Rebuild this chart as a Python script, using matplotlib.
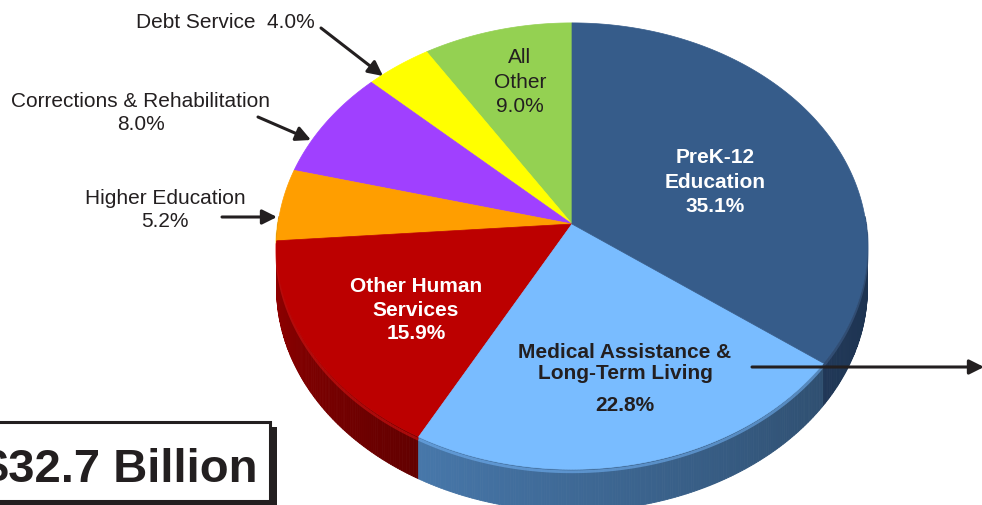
import numpy as np
import matplotlib.pyplot as plt
from matplotlib.patches import Polygon, Rectangle
from matplotlib.colors import to_rgb

# budget shares, drawn counter-clockwise from 12 o'clock
labels = ['All Other', 'Debt Service', 'Corrections & Rehabilitation',
          'Higher Education', 'Other Human Services',
          'Medical Assistance & Long-Term Living', 'PreK-12 Education']
shares = [9.0, 4.0, 8.0, 5.2, 15.9, 22.8, 35.1]
top_colors = ['#94D152', '#FFFF00', '#A040FF', '#FF9E00',
              '#BC0000', '#79BCFF', '#365C8A']
side_colors = ['#5E8A30', '#A8A800', '#6A20B0', '#B86E00',
               '#7E0000', '#3C6590', '#1B2F4A']
total_label = '$32.7 Billion'

plt.rcParams['font.family'] = ['Liberation Sans', 'DejaVu Sans']
INK = '#231F20'

# fake 3d: perspective disc
CX, CY = 572, 225
RX, RY = 294, 221
K = 0.099
DEPTH = 42


def project(theta_deg, r=1.0):
    t = np.radians(theta_deg)
    u = r * np.cos(t)
    v = r * np.sin(t)
    d = 1 + K * v
    return CX + RX * u / d, CY - RY * v / d


fig = plt.figure(figsize=(9.82, 5.06), dpi=100)
ax = fig.add_axes([0, 0, 1, 1])
ax.set_xlim(0, 982)
ax.set_ylim(506, 0)
ax.axis('off')

edges = 90 + np.concatenate([[0], np.cumsum(shares)]) * 3.6

# sides (front rim only)
for i in range(len(shares)):
    a, b = edges[i], edges[i + 1]
    lo, hi = max(a, 178), min(b, 362)
    if hi <= lo:
        continue
    base = np.array(to_rgb(side_colors[i]))
    n = max(int((hi - lo) * 2), 2)
    th = np.linspace(lo, hi, n + 1)
    for j in range(n):
        t0, t1 = th[j], th[j + 1]
        x0, y0 = project(t0)
        x1, y1 = project(t1)
        frac = ((t0 + t1) / 2 - a) / (b - a)
        f = 1.18 - 0.4 * frac
        c = np.clip(base * f, 0, 1)
        ax.add_patch(Polygon([(x0, y0), (x1, y1), (x1, y1 + DEPTH), (x0, y0 + DEPTH)],
                             closed=True, facecolor=c, edgecolor=c, lw=0.6, zorder=1))
    # light bevel along the top of the side
    xs, ys = project(th)
    hl = np.clip(base * 1.6 + 0.08, 0, 1)
    ax.plot(xs, ys + 2.5, color=hl, lw=2, alpha=0.55, zorder=1.5, solid_capstyle='butt')

# top faces
for i in range(len(shares)):
    th = np.linspace(edges[i], edges[i + 1], 200)
    xs, ys = project(th)
    pts = [(CX, CY)] + list(zip(xs, ys))
    ax.add_patch(Polygon(pts, closed=True, facecolor=top_colors[i],
                         edgecolor=top_colors[i], lw=0.5, zorder=2))

# labels on the pie
ax.text(715, 182, 'PreK-12\nEducation\n35.1%', color='white', fontsize=15,
        fontweight='bold', ha='center', va='center', linespacing=1.36, zorder=5)
ax.text(416, 310, 'Other Human\nServices\n15.9%', color='white', fontsize=15,
        fontweight='bold', ha='center', va='center', linespacing=1.33, zorder=5)
ax.text(625, 363, 'Medical Assistance &\nLong-Term Living', color=INK, fontsize=15,
        fontweight='bold', ha='center', va='center', linespacing=1.17, zorder=5)
ax.text(625, 406, '22.8%', color=INK, fontsize=15,
        fontweight='bold', ha='center', va='center', zorder=5)
ax.text(520, 82, 'All\nOther\n9.0%', color=INK, fontsize=15,
        ha='center', va='center', linespacing=1.36, zorder=5)

# outside labels
ax.text(225, 22, 'Debt Service  4.0%', color=INK, fontsize=15,
        ha='center', va='center', zorder=5)
ax.text(141, 113, 'Corrections & Rehabilitation\n8.0%', color=INK, fontsize=15,
        ha='center', va='center', linespacing=1.32, zorder=5)
ax.text(165, 210, 'Higher Education\n5.2%', color=INK, fontsize=15,
        ha='center', va='center', linespacing=1.32, zorder=5)

arrow = dict(arrowstyle='-|>', lw=2.2, color=INK, mutation_scale=22,
             shrinkA=0, shrinkB=0)
ax.annotate('', xy=(383, 77), xytext=(321, 29), arrowprops=arrow, zorder=6)
ax.annotate('', xy=(311, 141), xytext=(258, 118), arrowprops=arrow, zorder=6)
ax.annotate('', xy=(277, 218), xytext=(222, 218), arrowprops=arrow, zorder=6)
ax.annotate('', xy=(984, 368), xytext=(752, 368), arrowprops=arrow, zorder=6,
            annotation_clip=False)

# total box with drop shadow (text runs off the left edge as in the source)
ax.add_patch(Rectangle((-20, 428), 297, 80, facecolor=INK, edgecolor='none', zorder=7))
ax.add_patch(Rectangle((-20, 423), 290, 79, facecolor='white', edgecolor=INK,
                       lw=2.2, zorder=8))
ax.text(258, 482, total_label, color=INK, fontsize=34, fontweight='bold',
        ha='right', va='baseline', zorder=9)

fig.savefig('out.png', dpi=100)
